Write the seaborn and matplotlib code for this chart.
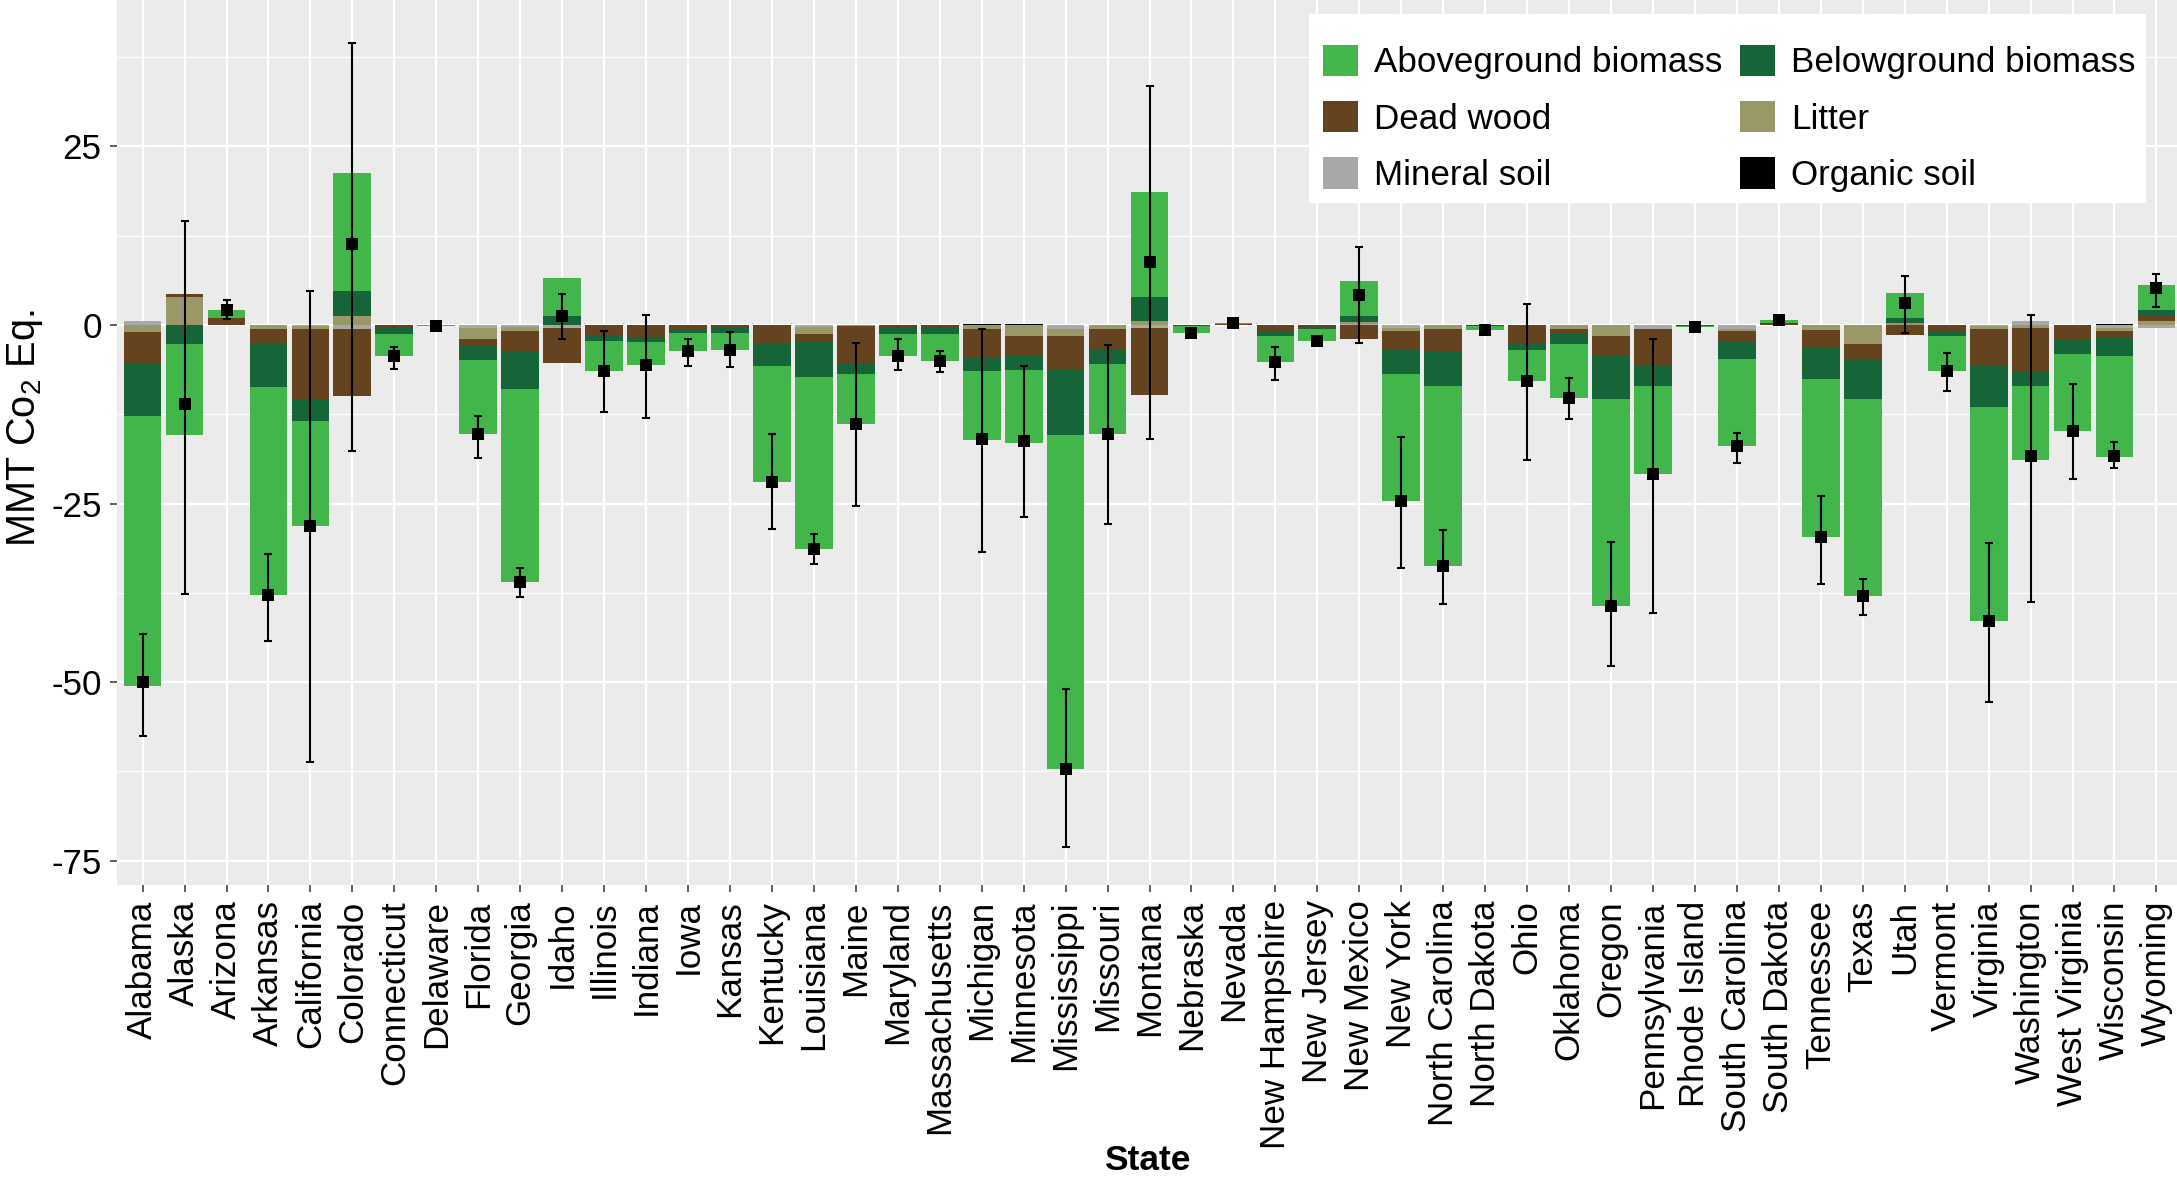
import numpy as np
import pandas as pd
import matplotlib
matplotlib.use("Agg")
import matplotlib.pyplot as plt
from matplotlib.patches import Patch, Rectangle
import seaborn as sns

# Net carbon flux by forest carbon pool and state (MMT CO2 Eq.)
STATES = [
    "Alabama", "Alaska", "Arizona", "Arkansas", "California", "Colorado",
    "Connecticut", "Delaware", "Florida", "Georgia", "Idaho", "Illinois",
    "Indiana", "Iowa", "Kansas", "Kentucky", "Louisiana", "Maine", "Maryland",
    "Massachusetts", "Michigan", "Minnesota", "Mississippi", "Missouri",
    "Montana", "Nebraska", "Nevada", "New Hampshire", "New Jersey",
    "New Mexico", "New York", "North Carolina", "North Dakota", "Ohio",
    "Oklahoma", "Oregon", "Pennsylvania", "Rhode Island", "South Carolina",
    "South Dakota", "Tennessee", "Texas", "Utah", "Vermont", "Virginia",
    "Washington", "West Virginia", "Wisconsin", "Wyoming",
]

ORGANIC_SOIL = [
    0, 0, 0, 0, 0, 0, 0, 0, 0, 0, 0, 0, 0, 0, 0, 0, 0, 0, 0, 0,
    0.2, 0.2, 0, 0, 0, 0, 0, 0, 0, 0, 0, 0, 0, 0, 0, 0, 0, 0, 0, 0,
    0, 0, 0, 0, 0, 0, 0, 0.2, 0,
]
MINERAL_SOIL = [
    0.5, 0, 0, 0, -0.2, -0.5, 0, 0, -0.4, -0.3, -0.4, 0, 0, 0, 0, 0,
    -0.3, 0, 0, 0, 0, 0, -0.6, 0, -0.4, 0, 0, 0, 0, 0.1, -0.4, 0, 0, 0,
    0, 0, -0.5, 0, -0.5, 0, 0, 0, 0, 0, -0.2, 0.5, 0, -0.4, -0.4,
]
LITTER = [
    -1.0, 3.9, 0, -0.5, -0.3, 1.2, 0, 0, -1.6, -0.6, 0, 0, 0, 0, 0, 0,
    -0.9, -0.2, 0, 0, -0.5, -1.5, -0.9, -0.6, 0.6, 0, 0, 0, 0, 0.3, -0.5,
    -0.5, 0, 0, -0.5, -1.5, 0, 0, -0.4, 0, -0.7, -2.7, 0.3, 0, -0.4, -0.4,
    0, -0.5, 0.6,
]
DEAD_WOOD = [
    -4.3, 0.4, 1.0, -2.1, -10.0, -9.4, -0.3, 0, -0.9, -2.8, -4.9, -1.5,
    -1.8, -0.5, -0.4, -2.7, -1.2, -5.3, -0.3, -0.3, -4.1, -2.8, -4.6, -2.8,
    -9.4, 0, 0.1, -0.8, -0.3, -1.9, -2.5, -3.2, 0, -2.7, -0.7, -2.8, -5.3,
    0, -1.3, 0.25, -2.5, -2.0, -1.4, -0.8, -5.1, -6.0, -1.9, -0.8, 0.6,
]
BELOWGROUND = [
    -7.5, -2.7, 0, -6.1, -3.0, 3.5, -0.9, -0.05, -2.0, -5.3, 1.3, -0.7,
    -0.6, -0.6, -0.7, -3.1, -4.9, -1.3, -0.9, -0.9, -1.8, -2.0, -9.3, -2.0,
    3.3, -0.2, 0, -0.8, -0.2, 0.9, -3.5, -4.8, -0.2, -0.8, -1.4, -6.1, -2.7,
    -0.1, -2.5, 0, -4.3, -5.6, 0.7, -0.8, -5.8, -2.1, -2.1, -2.7, 0.9,
]
ABOVEGROUND = [
    -37.7, -12.7, 1.1, -29.1, -14.7, 16.6, -3.2, -0.15, -10.4, -27.0, 5.3,
    -4.2, -3.2, -2.5, -2.4, -16.2, -24.1, -7.0, -3.1, -3.8, -9.7, -10.2,
    -46.7, -9.8, 14.7, -0.9, 0.2, -3.6, -1.8, 4.8, -17.7, -25.3, -0.5, -4.3,
    -7.6, -28.9, -12.4, -0.2, -12.2, 0.4, -22.2, -27.6, 3.5, -4.8, -29.9,
    -10.4, -10.8, -14.1, 3.5,
]
# Upper and lower bounds of the net flux uncertainty interval
NET_UPPER = [
    -43.2, 14.6, 3.5, -32.0, 4.8, 39.5, -3.1, 0.1, -12.7, -34.0, 4.3, -0.8,
    1.4, -2.0, -1.0, -15.3, -29.2, -2.5, -2.0, -3.6, -0.5, -5.7, -51.0,
    -2.8, 33.4, -0.7, 0.6, -3.1, -1.9, 10.9, -15.7, -28.7, -0.4, 3.0, -7.4,
    -30.4, -2.0, -0.1, -15.1, 1.0, -23.9, -35.5, 6.8, -3.9, -30.5, 1.4,
    -8.2, -16.4, 7.2,
]
NET_LOWER = [
    -57.5, -37.6, 0.9, -44.2, -61.2, -17.7, -6.1, -0.5, -18.6, -38.1, -2.0,
    -12.2, -13.0, -5.7, -5.9, -28.6, -33.4, -25.4, -6.3, -6.6, -31.8,
    -26.9, -73.1, -27.9, -16.0, -1.5, 0.0, -7.7, -2.7, -2.5, -34.0, -39.1,
    -1.0, -18.9, -13.2, -47.7, -40.3, -0.5, -19.3, 0.3, -36.3, -40.6, -1.1,
    -9.2, -52.8, -38.8, -21.6, -20.0, 2.5,
]

POOLS = ["Aboveground biomass", "Belowground biomass", "Dead wood",
         "Litter", "Mineral soil", "Organic soil"]
POOL_COLORS = {
    "Aboveground biomass": "#42B54B",
    "Belowground biomass": "#166539",
    "Dead wood": "#65431F",
    "Litter": "#9B9867",
    "Mineral soil": "#A8A8A8",
    "Organic soil": "#000000",
}

pools = pd.DataFrame({
    "Organic soil": ORGANIC_SOIL,
    "Mineral soil": MINERAL_SOIL,
    "Litter": LITTER,
    "Dead wood": DEAD_WOOD,
    "Belowground biomass": BELOWGROUND,
    "Aboveground biomass": ABOVEGROUND,
}, index=STATES)

# stacking order outward from zero (first legend entry ends up farthest out)
stack_order = list(reversed(POOLS))
pos_cum = pools[stack_order].clip(lower=0).cumsum(axis=1)
neg_cum = pools[stack_order].clip(upper=0).cumsum(axis=1)
net = pools.sum(axis=1).values

sns.set_theme(style="darkgrid", rc={
    "axes.facecolor": "#EBEBEB",
    "grid.color": "white",
    "axes.edgecolor": "#EBEBEB",
})
plt.rcParams["font.family"] = ["Liberation Sans", "DejaVu Sans"]
plt.rcParams["text.color"] = "black"
plt.rcParams["axes.labelcolor"] = "black"
plt.rcParams["axes.unicode_minus"] = False
plt.rcParams["mathtext.fontset"] = "custom"
plt.rcParams["mathtext.rm"] = "Liberation Sans"
plt.rcParams["mathtext.it"] = "Liberation Sans:italic"
plt.rcParams["mathtext.bf"] = "Liberation Sans:bold"

W, H = 2177, 1178
fig = plt.figure(figsize=(W / 100, H / 100), dpi=100)
AX_LEFT, AX_BOTTOM_PX, AX_W_PX = 117, 885, 2060
ax = fig.add_axes([AX_LEFT / W, 1 - AX_BOTTOM_PX / H, AX_W_PX / W, AX_BOTTOM_PX / H])

# stacked bars: draw cumulative totals from the outermost pool inward
for pool in reversed(stack_order):
    for cum in (pos_cum, neg_cum):
        sns.barplot(x=STATES, y=cum[pool].values, order=STATES,
                    color=POOL_COLORS[pool], saturation=1, width=0.9,
                    linewidth=0, errorbar=None, ax=ax, zorder=2)

xpos = np.arange(len(STATES))
ax.errorbar(xpos, net,
            yerr=[net - np.array(NET_LOWER), np.array(NET_UPPER) - net],
            fmt="none", ecolor="black", elinewidth=1.5, capsize=3.2,
            capthick=1.5, zorder=3)
sns.scatterplot(x=xpos, y=net, marker="s", s=85, color="black",
                linewidth=0, ax=ax, zorder=4)

ax.set_xlim(-0.61, len(STATES) - 1 + 0.49)
ax.set_ylim(-78.4, 45.5)
ax.set_yticks([-75, -50, -25, 0, 25])
ax.set_yticks([-62.5, -37.5, -12.5, 12.5, 37.5], minor=True)
ax.set_xticks(xpos)
ax.set_xticklabels(STATES, rotation=90, ha="center", va="top")

ax.set_axisbelow(True)
ax.grid(True, which="major", axis="both", color="white", linewidth=1.6)
ax.grid(True, which="minor", axis="y", color="white", linewidth=0.9)
for sp in ax.spines.values():
    sp.set_visible(False)

ax.tick_params(axis="both", which="major", length=5, width=1.1,
               color="#333333", labelsize=25.2, labelcolor="black", pad=6,
               bottom=True, left=True)
ax.tick_params(axis="y", which="minor", length=0)
ax.tick_params(axis="x", which="major", pad=6)

# axis titles
ax.set_xlabel("")
ax.set_ylabel("")
fig.text((AX_LEFT + AX_W_PX / 2) / W, 1 - 1160 / H, "State", fontsize=25.5,
         fontweight="bold", ha="center", va="center")
fig.text(25 / W, 1 - 428 / H, "MMT Co$_2$ Eq.", fontsize=28.5,
         rotation=90, ha="center", va="center")

# legend: white panel with the pool keys laid out in two columns
def ax_frac(px_x, px_y):
    return ((px_x - AX_LEFT) / AX_W_PX, 1 - px_y / AX_BOTTOM_PX)

x0, y_top = ax_frac(1309, 14)
x1, y_bot = ax_frac(2146, 203)
ax.add_patch(Rectangle((x0, y_bot), x1 - x0, y_top - y_bot,
                       transform=ax.transAxes, facecolor="white",
                       edgecolor="none", zorder=5))

handles = {p: Patch(facecolor=POOL_COLORS[p], edgecolor="none") for p in POOLS}
legend_order = ["Aboveground biomass", "Dead wood", "Mineral soil",
                "Belowground biomass", "Litter", "Organic soil"]
leg = ax.legend([handles[p] for p in legend_order], legend_order,
                ncol=2, loc="upper right", bbox_to_anchor=ax_frac(2157, 23),
                borderaxespad=0, fontsize=25.2, frameon=False,
                handlelength=1.0, handleheight=1.0, labelcolor="black",
                handletextpad=0.45, columnspacing=0.5, labelspacing=0.62,
                borderpad=0.62)
leg.set_zorder(6)

fig.savefig("out.png", dpi=100)
